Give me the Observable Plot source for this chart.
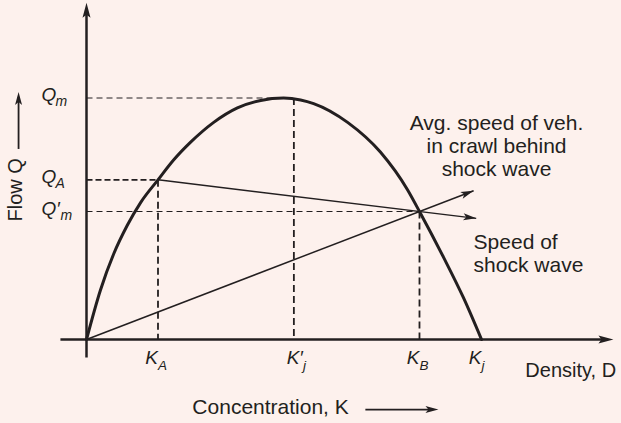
<!DOCTYPE html>
<html><head><meta charset="utf-8">
<script src="https://cdn.jsdelivr.net/npm/d3@7"></script>
<script src="https://cdn.jsdelivr.net/npm/@observablehq/plot@0.6"></script>
<style>
html,body{margin:0;padding:0;background:#fdf1ed;}
#chart svg{display:block}
</style>
</head><body><div id="chart"></div>
<script>
// ---------- data ----------
const kLabels = ["K", "K\u2032", "K", "K"];
const kSubs = ["A", "j", "B", "j"];
const kValues = [18.1, 52.5, 84.3, 100];

const qLabels = ["Q", "Q", "Q\u2032"];
const qSubs = ["m", "A", "m"];
const qValues = [100, 66.1, 53.0];

// flow-density curve (K units, Q units)
const curveK = [0, 3.5, 6.9, 10.3, 13.7, 18.1, 22.1, 26.3, 32.2, 38.2, 44.1, 49.9, 54.2, 57.5, 66.1, 74.4, 81.3, 84.3, 90.4, 95.4, 100];
const curveQ = [0, 20.3, 35.5, 47.2, 56.7, 66.1, 74.4, 81.6, 89.9, 95.9, 99.0, 100, 99.2, 97.7, 89.9, 77.6, 61.9, 53.0, 34.0, 17.4, 0];

const axisTitles = ["Flow Q", "Concentration, K", "Density, D"];
const noteAvg = "Avg. speed of veh.\nin crawl behind\nshock wave";
const noteShock = "Speed of\nshock wave";

// ---------- layout ----------
const INK = "#231f20";
const BG = "#fdf1ed";
const FONT = "'Liberation Sans', Arial, Helvetica, sans-serif";
const X_DOMAIN = [0, 100], X_RANGE = [86, 481];
const Y_DOMAIN = [0, 100], Y_RANGE = [339, 97.5];
const L = {
  xAxis: [-6.6, 133.4], yAxis: [-7.5, 139.4],
  flowArrowX: -17.2, flowArrowY: [78.9, 102.5],
  flowTextX: -18.0, flowTextY: 62.0,
  concTextX: 46.6, concTextY: -28.2,
  concArrowX: [70.6, 89.1], concArrowY: -29.0,
  densTextX: 111.1, densTextY: -12.8,
  avgTextX: 103.8, avgTextY: 80.4,
  shockTextX: 98.0, shockTextY: 35.6,
  extAvg: 0.1625, extShock: 0.217
};

const xs = Plot.scale({x: {domain: X_DOMAIN, range: X_RANGE}});
const ys = Plot.scale({y: {domain: Y_DOMAIN, range: Y_RANGE}});
function angle(p0, p1) {
  const dx = xs.apply(p1[0]) - xs.apply(p0[0]);
  const dy = ys.apply(p1[1]) - ys.apply(p0[1]);
  return Math.atan2(dy, dx) * 180 / Math.PI + 90;
}
const head = (len, wid, notch) => ({
  draw(ctx) {
    ctx.moveTo(0, 0);
    ctx.lineTo(wid / 2, len);
    ctx.lineTo(0, len - notch);
    ctx.lineTo(-wid / 2, len);
    ctx.closePath();
  }
});

const curve = curveK.map((k, i) => ({k, q: curveQ[i]}));
const O = [0, 0];
const A = [kValues[0], qValues[1]];
const B = [kValues[2], qValues[2]];
const tipAvg = [B[0] + L.extAvg * (B[0] - O[0]), B[1] + L.extAvg * (B[1] - O[1])];
const tipShock = [B[0] + L.extShock * (B[0] - A[0]), B[1] + L.extShock * (B[1] - A[1])];

const kTicks = kValues.map((v, i) => ({v, lab: kLabels[i], sub: kSubs[i], prime: kLabels[i].length > 1}));
const qTicks = qValues.map((v, i) => ({v, lab: qLabels[i], sub: qSubs[i], prime: qLabels[i].length > 1}));
const kPlain = kTicks.filter(d => !d.prime), kPrime = kTicks.filter(d => d.prime);
const qPlain = qTicks.filter(d => !d.prime), qPrime = qTicks.filter(d => d.prime);

const seg = (x1, y1, x2, y2) => [{x1, y1, x2, y2}];
const LK = {x1: "x1", y1: "y1", x2: "x2", y2: "y2"};

const heads = [
  {x: 0, y: L.yAxis[1], r: 0, s: "ax"},
  {x: L.xAxis[1], y: 0, r: 90, s: "ax"},
  {x: L.flowArrowX, y: L.flowArrowY[1], r: 0, s: "sm"},
  {x: L.concArrowX[1], y: L.concArrowY, r: 90, s: "sm"},
  {x: tipAvg[0], y: tipAvg[1], r: angle(O, tipAvg), s: "sh"},
  {x: tipShock[0], y: tipShock[1], r: angle(A, tipShock), s: "sh"}
];

const kMain = {y: 0, text: "lab", dy: 24, lineAnchor: "bottom", textAnchor: "end", fontSize: 19, fontStyle: "italic", fill: INK};
const kSub = {y: 0, text: "sub", dy: 30, lineAnchor: "bottom", textAnchor: "start", fontSize: 13.5, fontStyle: "italic", fill: INK};
const qSub = {x: 0, y: "v", text: "sub", dy: 8, lineAnchor: "bottom", textAnchor: "start", fontSize: 14, fontStyle: "italic", fill: INK};

const chart = Plot.plot({
  width: 621, height: 423,
  marginTop: 0, marginRight: 0, marginBottom: 0, marginLeft: 0,
  x: {domain: X_DOMAIN, range: X_RANGE, axis: null},
  y: {domain: Y_DOMAIN, range: Y_RANGE, axis: null},
  style: {background: BG, fontFamily: FONT, color: INK},
  marks: [
    // dashed guides (thin horizontals)
    Plot.link(seg(0, qValues[0], kValues[1], qValues[0]), {...LK, stroke: INK, strokeWidth: 1, strokeDasharray: "6,4"}),
    Plot.link(seg(0, qValues[2], kValues[2], qValues[2]), {...LK, stroke: INK, strokeWidth: 1, strokeDasharray: "6,4"}),
    Plot.link(seg(0, qValues[1], kValues[0], qValues[1]), {...LK, stroke: INK, strokeWidth: 1.8, strokeDasharray: "6,3"}),
    // dashed verticals
    Plot.link(seg(kValues[0], qValues[1], kValues[0], 0), {...LK, stroke: INK, strokeWidth: 1.8, strokeDasharray: "7,4"}),
    Plot.link(seg(kValues[1], qValues[0], kValues[1], 0), {...LK, stroke: INK, strokeWidth: 1.8, strokeDasharray: "7,4"}),
    Plot.link(seg(kValues[2], qValues[2], kValues[2], 0), {...LK, stroke: INK, strokeWidth: 1.8, strokeDasharray: "7,4"}),
    // speed lines
    Plot.link(seg(O[0], O[1], tipAvg[0], tipAvg[1]), {...LK, stroke: INK, strokeWidth: 1.5}),
    Plot.link(seg(A[0], A[1], tipShock[0], tipShock[1]), {...LK, stroke: INK, strokeWidth: 1.5}),
    // curve
    Plot.line(curve, {x: "k", y: "q", curve: "monotone-x", stroke: INK, strokeWidth: 3}),
    // axes
    Plot.link(seg(L.xAxis[0], 0, L.xAxis[1] - 2, 0), {...LK, stroke: INK, strokeWidth: 2.5}),
    Plot.link(seg(0, L.yAxis[0], 0, L.yAxis[1] - 3), {...LK, stroke: INK, strokeWidth: 2.5}),
    Plot.link(seg(L.flowArrowX, L.flowArrowY[0], L.flowArrowX, L.flowArrowY[1] - 2), {...LK, stroke: INK, strokeWidth: 1.8}),
    Plot.link(seg(L.concArrowX[0], L.concArrowY, L.concArrowX[1] - 2, L.concArrowY), {...LK, stroke: INK, strokeWidth: 1.8}),
    // arrow heads
    Plot.dot(heads.filter(d => d.s === "ax"), {x: "x", y: "y", rotate: "r", symbol: head(15, 8, 3), r: 5, fill: INK, stroke: "none"}),
    Plot.dot(heads.filter(d => d.s !== "ax"), {x: "x", y: "y", rotate: "r", symbol: head(13, 7, 3), r: 5, fill: INK, stroke: "none"}),
    // K tick labels
    Plot.text(kPlain, {...kMain, x: "v", dx: 0}),
    Plot.text(kPrime, {...kMain, x: "v", dx: 9}),
    Plot.text(kPlain, {...kSub, x: "v", dx: 0}),
    Plot.text(kPrime, {...kSub, x: "v", dx: 9}),
    // Q tick labels
    Plot.text(qTicks, {x: 0, y: "v", text: "lab", dx: -45, dy: 3, lineAnchor: "bottom", textAnchor: "start", fontSize: 19, fontStyle: "italic", fill: INK}),
    Plot.text(qPlain, {...qSub, dx: -31}),
    Plot.text(qPrime, {...qSub, dx: -26}),
    // titles
    Plot.text([axisTitles[0]], {x: L.flowTextX, y: L.flowTextY, text: d => d, rotate: -90, textAnchor: "middle", lineAnchor: "middle", fontSize: 20, fill: INK}),
    Plot.text([axisTitles[1]], {x: L.concTextX, y: L.concTextY, text: d => d, textAnchor: "middle", lineAnchor: "middle", fontSize: 21, fill: INK}),
    Plot.text([axisTitles[2]], {x: L.densTextX, y: L.densTextY, text: d => d, textAnchor: "start", lineAnchor: "middle", fontSize: 20, fill: INK}),
    Plot.text([noteAvg], {x: L.avgTextX, y: L.avgTextY, text: d => d, textAnchor: "middle", lineAnchor: "middle", lineHeight: 1.095, fontSize: 21, fill: INK}),
    Plot.text([noteShock], {x: L.shockTextX, y: L.shockTextY, text: d => d, textAnchor: "start", lineAnchor: "middle", lineHeight: 1.095, fontSize: 21, fill: INK})
  ]
});
document.getElementById("chart").appendChild(chart);
</script>
</body></html>
